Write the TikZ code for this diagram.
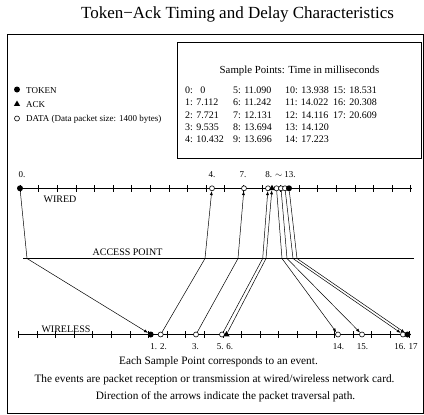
\documentclass[tikz,border=0pt]{standalone}
\usepackage{fontspec}
\setmainfont{Liberation Serif}
\usetikzlibrary{arrows.meta,shapes.geometric}

\tikzset{
 frameline/.style={line width=0.8pt},
 axisline/.style={line width=0.9pt},
 tokenmark/.style={circle,fill,inner sep=0pt,minimum size=6pt},
 datamark/.style={circle,draw,fill=white,inner sep=0pt,minimum size=5pt,line width=0.6pt},
 ackmark/.style={regular polygon,regular polygon sides=3,fill,inner sep=0pt,minimum size=7pt},
 pktpath/.style={line width=0.5pt,-{Latex[length=4pt,width=3pt]}},
 ptlabel/.style={font=\fontsize{9}{10}\selectfont,anchor=base,inner sep=0pt},
 axislabel/.style={font=\fontsize{10}{12}\selectfont,anchor=base,inner sep=0pt},
 legtext/.style={font=\fontsize{9}{10}\selectfont,anchor=base west,inner sep=0pt},
 tabtext/.style={font=\fontsize{10}{12}\selectfont,anchor=base west,inner sep=0pt},
 notetext/.style={font=\fontsize{11.3}{13}\selectfont,anchor=base,inner sep=0pt}
}

\begin{document}
\begin{tikzpicture}[x=1pt,y=-1pt]
 \useasboundingbox (0,0) rectangle (424,415);
 \node[font=\fontsize{17}{20}\selectfont,anchor=base,inner sep=0pt] (title) at (237.5,18.5) {Token\textminus Ack Timing and Delay Characteristics};
 \draw[frameline] (7,34) rectangle (423.6,413);

 % sample point table
 \draw[frameline] (177,42) rectangle (421.5,158);
 \node[font=\fontsize{10.8}{12}\selectfont,anchor=base,inner sep=0pt] (tabhead) at (299.5,73) {Sample Points: Time in milliseconds};
 \node[tabtext] at (185,93.3) {0:\ \ \ 0};
 \node[tabtext] at (185,105.7) {1: 7.112};
 \node[tabtext] at (185,118.1) {2: 7.721};
 \node[tabtext] at (185,130.5) {3: 9.535};
 \node[tabtext] at (185,142.9) {4: 10.432};
 \node[tabtext] at (233,93.3) {5: 11.090};
 \node[tabtext] at (233,105.7) {6: 11.242};
 \node[tabtext] at (233,118.1) {7: 12.131};
 \node[tabtext] at (233,130.5) {8: 13.694};
 \node[tabtext] at (233,142.9) {9: 13.696};
 \node[tabtext] at (285,93.3) {10: 13.938};
 \node[tabtext] at (285,105.7) {11: 14.022};
 \node[tabtext] at (285,118.1) {12: 14.116};
 \node[tabtext] at (285,130.5) {13: 14.120};
 \node[tabtext] at (285,142.9) {14: 17.223};
 \node[tabtext] at (333,93.3) {15: 18.531};
 \node[tabtext] at (333,105.7) {16: 20.308};
 \node[tabtext] at (333,118.1) {17: 20.609};

 % legend
 \node[tokenmark] (legtoken) at (17,89.5) {};
 \node[ackmark] (legack) at (17,104) {};
 \node[datamark] (legdata) at (17,118.5) {};
 \node[legtext] at (26,93) {TOKEN};
 \node[legtext] at (26,107) {ACK};
 \node[legtext] at (26,121.5) {DATA (Data packet size: 1400 bytes)};

 % the three lines
 \draw[axisline] (20,188.3) -- (412,188.3);
 \foreach \k in {0,...,21} \draw[line width=0.6pt] (20+18.6*\k,185) -- ++(0,6.6);
 \draw[line width=0.7pt] (23,258.5) -- (414,258.5);
 \draw[axisline] (18.3,334.5) -- (411,334.5);
 \foreach \k in {0,...,21} \draw[line width=0.6pt] (18.3+18.6*\k,331.2) -- ++(0,6.6);
 \node[axislabel] at (60,202) {WIRED};
 \node[axislabel] at (127.5,255.5) {ACCESS POINT};
 \node[axislabel] at (66,332) {WIRELESS};

 % wired points
 \node[tokenmark] (p0) at (20,188.3) {};
 \node[datamark] (p4) at (212,188.3) {};
 \node[datamark] (p7) at (244,188.3) {};
 \node[datamark] (p8) at (268,188.3) {};
 \node[ackmark] (p9) at (272,188.3) {};
 \node[datamark] (p10) at (276.5,188.3) {};
 \node[datamark] (p11) at (281,188.3) {};
 \node[datamark] (p12) at (285,188.3) {};
 \node[tokenmark] (p13) at (289,188.3) {};
 % wireless points
 \node[tokenmark] (p1) at (150.7,334.5) {};
 \node[datamark] (p2) at (160.7,334.5) {};
 \node[datamark] (p3) at (196,334.5) {};
 \node[datamark] (p5) at (222,334.5) {};
 \node[ackmark] (p6) at (226.5,334.5) {};
 \node[datamark] (p14) at (338,334.5) {};
 \node[datamark] (p15) at (362,334.5) {};
 \node[datamark] (p16) at (403,334.5) {};
 \node[tokenmark] (p17) at (407.5,334.5) {};
 % crossings at the access point
 \coordinate (a0) at (27,258.5);
 \coordinate (a2) at (205,258.5);
 \coordinate (a3) at (238,258.5);
 \coordinate (a5) at (262.7,258.5);
 \coordinate (a6) at (266,258.5);
 \coordinate (a10) at (282,258.5);
 \coordinate (a11) at (287,258.5);
 \coordinate (a12) at (293,258.5);
 \coordinate (a13) at (297,258.5);

 \draw[pktpath] (p0) -- (a0) -- (p1);
 \draw[pktpath] (p2) -- (a2) -- (p4);
 \draw[pktpath] (p3) -- (a3) -- (p7);
 \draw[pktpath] (p5) -- (a5) -- (p8);
 \draw[pktpath] (p6) -- (a6) -- (p9);
 \draw[pktpath] (p10) -- (a10) -- (p14);
 \draw[pktpath] (p11) -- (a11) -- (p15);
 \draw[pktpath] (p12) -- (a12) -- (p16);
 \draw[pktpath] (p13) -- (a13) -- (p17);

 % point labels
 \node[ptlabel] at (22,177.5) {0.};
 \node[ptlabel] at (212,177.5) {4.};
 \node[ptlabel] at (243,177.5) {7.};
 \node[ptlabel] at (280.5,177.5) {8. $\sim$ 13.};
 \node[ptlabel] at (158.7,349.5) {1. 2.};
 \node[ptlabel] at (195.5,349.5) {3.};
 \node[ptlabel] at (225,349.5) {5. 6.};
 \node[ptlabel] at (338.5,349.5) {14.};
 \node[ptlabel] at (362.5,349.5) {15.};
 \node[ptlabel] at (406,349.5) {16. 17};

 \node[notetext] at (218.5,364.5) {Each Sample Point corresponds to an event.};
 \node[notetext] at (214.5,382) {The events are packet reception or transmission at wired/wireless network card.};
 \node[notetext] at (225.5,399) {Direction of the arrows indicate the packet traversal path.};
\end{tikzpicture}
\end{document}
